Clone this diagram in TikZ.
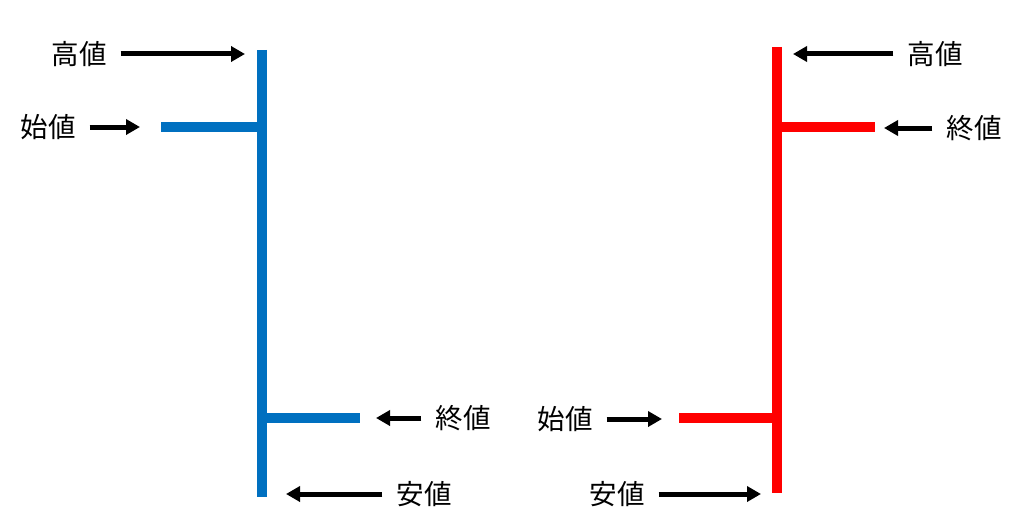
\documentclass[tikz,border=0pt]{standalone}
\usepackage{fontspec}
\setmainfont{Noto Sans CJK JP}
\usetikzlibrary{arrows.meta}
\definecolor{upblue}{HTML}{0070C0}
\definecolor{downred}{HTML}{FF0000}
\tikzset{
  lbl/.style={inner xsep=14pt, inner ysep=0pt, font=\fontsize{27.5}{27.5}\selectfont},
  ptr/.style={line width=5pt, -{Triangle[length=14pt,width=15pt]}},
  candle/.style={line width=9.5pt}
}
\begin{document}
\begin{tikzpicture}[x=1pt,y=-1pt]
    \useasboundingbox (0,0) rectangle (1023,527);

    % Blue candle
    \draw[candle, upblue] (262,50) -- (262,497);
    \draw[candle, upblue] (161,127) -- (262,127);
    \draw[candle, upblue] (262,418) -- (360,418);

    % Red candle
    \draw[candle, downred] (777,47) -- (777,493);
    \draw[candle, downred] (777,127) -- (875,127);
    \draw[candle, downred] (679,418) -- (777,418);

    % Labels
    \node[lbl] (hiA) at (79,54)  {高値};
    \node[lbl] (opA) at (48,127) {始値};
    \node[lbl] (clA) at (463,418) {終値};
    \node[lbl] (loA) at (424,494) {安値};
    \node[lbl] (hiB) at (935,54)  {高値};
    \node[lbl] (clB) at (974,128) {終値};
    \node[lbl] (opB) at (565,419) {始値};
    \node[lbl] (loB) at (617,494) {安値};

    % Arrow ends
    \coordinate (hiAend) at (245,54);
    \coordinate (opAend) at (140,127);
    \coordinate (clAend) at (376,418);
    \coordinate (loAend) at (286,494);
    \coordinate (hiBend) at (793,54);
    \coordinate (clBend) at (884,128);
    \coordinate (opBend) at (662,419);
    \coordinate (loBend) at (761,494);

    % Arrows
    \foreach \p in {hiA,opA,clA,loA,hiB,clB,opB,loB}
      \draw[ptr] (\p) -- (\p end);
\end{tikzpicture}
\end{document}
